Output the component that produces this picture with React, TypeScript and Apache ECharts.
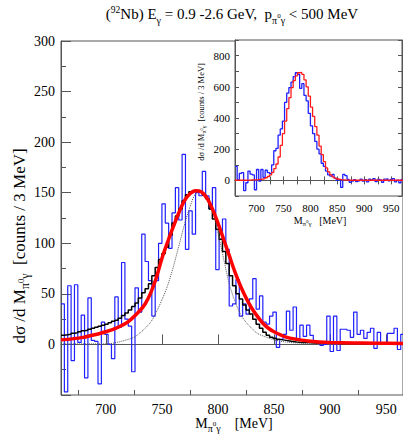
import React, { useEffect, useRef } from 'react';
import * as echarts from 'echarts';

// ---------------- data ----------------
// main panel: histograms in 3 MeV bins starting at 660 MeV
const mainBinStart = 660;
const mainBinWidth = 3;
const blueMain = [
  40, -47, 58, -16, 59, 2, 29, -33, 46, 4, 3, -39, 22, 10, 0, -14, 47, 17, 81, 25,
  18, -27, 56, 32, 109, 82, 63, 28, 63, 100, 139, 120, 95, 130, 155, 123, 188, 94, 132, 109,
  150, 147, 171, 147, 134, 155, 74, 104, 124, 94, 38, 40, 64, 28, 40, 30, 45, 65, 35, 48,
  22, 20, 28, 32, -3, 5, 10, 33, 14, 37, 5, 19, 8, 19, 9, 3, 1, -1, 0, 28,
  -7, 28, -6, 15, 15, 14, 7, 32, 10, 14, 6, 12, 16, -4, 12, 1, 0, 11, 11, 16,
  -5, 10,
];
const blackMain = [
  9, 9.5, 10, 11, 11.5, 12.5, 13.5, 14, 15, 16, 17, 18, 19,
  20, 21.5, 23, 24, 26, 28.5, 31, 34, 37.5, 41, 46, 51, 55,
  60, 68, 76, 84, 90, 96, 108, 120, 127, 134, 142, 148, 151,
  152, 152, 151, 148, 144, 134, 124, 114, 104, 92, 80, 68, 58,
  50, 45, 39, 34, 30, 25, 20, 16, 12, 9, 7, 6, 5,
  4.5, 4, 3.5, 3, 2.5, 2.2, 2, 2, 1.8, 1.5, 1.5, 1.4, 1.3,
  1.2, 1.2, 1.1, 1.1, 1, 1, 1, 1, 1, 1, 1, 1, 1, 1, 1, 1, 1, 1, 1, 1, 1, 1, 1, 1,
];
const redCurveX = [660, 670, 680, 690, 700, 710, 720, 730, 735, 740, 745, 750, 755, 760, 765, 770, 775, 780, 785, 790, 795, 800, 805, 810, 815, 820, 825, 830, 835, 840, 845, 850, 860, 870, 880, 890, 900, 920, 940, 965];
const redCurveY = [4.5, 5.5, 7, 9.5, 12.5, 16.5, 22.5, 33, 40, 51, 66, 85, 101, 116, 130, 142, 149, 152, 151, 145, 134, 120, 104, 88, 72, 58, 46, 36, 28, 21, 16, 12.5, 7.5, 5, 3.5, 2.5, 2, 1.5, 1.2, 1];
const dotCurveX = [660, 700, 710, 720, 725, 730, 735, 740, 745, 750, 755, 760, 765, 770, 775, 780, 785, 790, 795, 800, 805, 810, 815, 820, 825, 830, 835, 840, 850, 860, 870, 880, 965];
const dotCurveY = [0.5, 0.5, 2, 5, 7, 11, 16, 22, 32, 44, 58, 76, 97, 118, 136, 149, 151, 146, 132, 110, 85, 60, 43, 30, 22, 16, 11, 8.5, 4.5, 2.5, 1.5, 1, 1];
const mainXLabels = [700, 750, 800, 850, 900, 950];
const mainXMinor = [675, 725, 775, 825, 875, 925];

// inset: histograms in 4 MeV bins starting at 660 MeV
const insetBinStart = 660;
const insetBinWidth = 4;
const blueInset = [
  90, 5, 45, 50, -65, -15, 60, 40, 35, -60,
  70, -5, 70, 20, 65, 50, 45, 100, 190, 205,
  290, 330, 380, 500, 560, 595, 630, 665, 690, 680,
  590, 620, 545, 510, 430, 350, 300, 250, 200, 170,
  110, 90, 60, 35, 28, 38, 15, 0, 5, -45,
  38, 30, 6, -12, -5, 5, -8, -3, 8, -5,
  5, -10, 8, 3, 12, -8, 6, 2, -12, 8,
  10, -3, 6, 12, -10, 2, -15, 5,
];
const redInset = [
  1, 1, 1, 1, 1, 2, 2, 3, 3, 4,
  5, 7, 9, 12, 17, 25, 36, 52, 75, 105,
  150, 225, 300, 380, 460, 530, 595, 640, 670, 690,
  692, 680, 645, 600, 540, 470, 410, 345, 290, 220,
  165, 120, 80, 55, 35, 22, 14, 9, 6, 4,
  3, 2, 2, 1, 1, 1, 1, 1, 1, 1,
  1, 1, 1, 1, 1, 1, 1, 1, 1, 1,
  1, 1, 1, 1, 1, 1, 1, 1,
];
const insetXLabels = [700, 750, 800, 850, 900, 950];
const insetXTicks = [675, 700, 725, 750, 775, 800, 825, 850, 875, 900, 925, 950];
const insetYLabels = [0, 200, 400, 600, 800];

// ---------------- helpers ----------------
const FONT = 'Liberation Serif';
let measureCtx: CanvasRenderingContext2D | null = null;
function textWidth(t: string, s: number) {
  if (!measureCtx) measureCtx = document.createElement('canvas').getContext('2d');
  measureCtx!.font = `${s}px "Liberation Serif"`;
  return measureCtx!.measureText(t).width;
}
type Seg = { t: string; s: number; dy: number };
function runWidth(segs: Seg[]) {
  return segs.reduce((a, g) => a + textWidth(g.t, g.s), 0);
}
function layoutRun(segs: Seg[], x0: number, baseline: number) {
  let x = x0;
  const els: any[] = [];
  for (const g of segs) {
    els.push({
      type: 'text',
      x,
      y: baseline + g.dy - 0.33 * g.s,
      style: {
        text: g.t,
        fontSize: g.s,
        fontFamily: FONT,
        fill: '#000',
        textAlign: 'left',
        textVerticalAlign: 'middle',
      },
    });
    x += textWidth(g.t, g.s);
  }
  return els;
}
function centeredRun(segs: Seg[], cx: number, baseline: number) {
  return layoutRun(segs, cx - runWidth(segs) / 2, baseline);
}
function rotatedRun(segs: Seg[], cx: number, cy: number, baseS: number) {
  const w = runWidth(segs);
  return {
    type: 'group',
    x: cx,
    y: cy,
    rotation: Math.PI / 2,
    children: layoutRun(segs, -w / 2, 0.28 * baseS),
  };
}
function stepData(start: number, width: number, vals: number[]) {
  const pts = vals.map((v, i) => [start + i * width, v]);
  pts.push([start + vals.length * width, vals[vals.length - 1]]);
  return pts;
}
function zip(xs: number[], ys: number[]) {
  return xs.map((x, i) => [x, ys[i]]);
}

function mSub(sub: number, sup: number, dSub: number, dSup: number): Seg[] {
  return [
    { t: 'π', s: sub, dy: dSub },
    { t: '0', s: sup, dy: dSup },
    { t: 'γ', s: sub, dy: dSub },
  ];
}

function buildOption() {
  const axisCol = '#555';
  const titleSegs: Seg[] = [
    { t: '(', s: 15, dy: 0 },
    { t: '92', s: 9.5, dy: -6 },
    { t: 'Nb) E', s: 15, dy: 0 },
    { t: 'γ', s: 10, dy: 4.5 },
    { t: ' = 0.9 -2.6 GeV,  p', s: 15, dy: 0 },
    ...mSub(10, 7, 4.5, -0.5),
    { t: ' < 500 MeV', s: 15, dy: 0 },
  ];
  const mainXTitle: Seg[] = [
    { t: 'M', s: 14, dy: 0 },
    ...mSub(10, 7, 3.5, -1.5),
    { t: '    [MeV]', s: 14, dy: 0 },
  ];
  const mainYTitle: Seg[] = [
    { t: 'dσ /d M', s: 17, dy: 0 },
    ...mSub(12, 8.5, 4.5, -1),
    { t: '  [counts / 3 MeV]', s: 17, dy: 0 },
  ];
  const insetXTitle: Seg[] = [
    { t: 'M', s: 10, dy: 0 },
    ...mSub(7, 5, 2.5, -1),
    { t: '   [MeV]', s: 10, dy: 0 },
  ];
  const insetYTitle: Seg[] = [
    { t: 'dσ /d M', s: 8.5, dy: 0 },
    ...mSub(6, 4.5, 2.2, -0.8),
    { t: '  [counts / 3 MeV]', s: 8.5, dy: 0 },
  ];

  const labelBase = { fontFamily: FONT, color: '#000' };

  return {
    animation: false,
    backgroundColor: '#fff',
    grid: [
      { left: 61, top: 41, width: 343, height: 354, show: true, borderColor: axisCol, borderWidth: 1, backgroundColor: 'transparent' },
      { left: 235, top: 40, width: 167, height: 156, show: true, borderColor: axisCol, borderWidth: 1, backgroundColor: '#fff', z: 5 },
    ],
    xAxis: [
      {
        type: 'value', gridIndex: 0, min: 660, max: 965, position: 'bottom',
        axisLine: { show: true, lineStyle: { color: axisCol } },
        splitLine: { show: false },
        axisTick: { show: true, inside: true, length: 10, customValues: mainXLabels, lineStyle: { color: axisCol } },
        axisLabel: { customValues: mainXLabels, margin: 7, fontSize: 14, ...labelBase },
      },
      {
        type: 'value', gridIndex: 0, min: 660, max: 965, position: 'bottom',
        axisLine: { show: false },
        splitLine: { show: false },
        axisTick: { show: true, inside: true, length: 5, customValues: mainXMinor, lineStyle: { color: axisCol } },
        axisLabel: { show: false },
      },
      {
        type: 'value', gridIndex: 1, min: 660, max: 970, position: 'bottom',
        axisLine: { show: true, lineStyle: { color: axisCol } },
        splitLine: { show: false },
        axisTick: { show: true, inside: true, length: 4, customValues: insetXTicks, lineStyle: { color: axisCol } },
        axisLabel: { customValues: insetXLabels, margin: 6, fontSize: 11, ...labelBase },
        z: 6,
      },
      {
        type: 'value', gridIndex: 1, min: 660, max: 970, position: 'top',
        axisLine: { show: true, lineStyle: { color: axisCol } },
        splitLine: { show: false },
        axisTick: { show: true, inside: true, length: 4, customValues: insetXTicks, lineStyle: { color: axisCol } },
        axisLabel: { show: false },
        z: 6,
      },
    ],
    yAxis: [
      {
        type: 'value', gridIndex: 0, min: -50, max: 300, interval: 50, position: 'left',
        axisLine: { show: true, lineStyle: { color: axisCol } },
        splitLine: { show: false },
        axisTick: { show: true, inside: true, length: 10, lineStyle: { color: axisCol } },
        minorTick: { show: true, splitNumber: 2, length: 5, lineStyle: { color: axisCol } },
        minorSplitLine: { show: false },
        axisLabel: { margin: 6, fontSize: 14, ...labelBase, formatter: (v: number) => (v < 0 ? '' : String(v)) },
      },
      {
        type: 'value', gridIndex: 1, min: -100, max: 900, interval: 100, position: 'left',
        axisLine: { show: true, lineStyle: { color: axisCol } },
        splitLine: { show: false },
        axisTick: { show: true, inside: true, length: 4, lineStyle: { color: axisCol } },
        axisLabel: {
          margin: 5, fontSize: 11, ...labelBase,
          formatter: (v: number) => (insetYLabels.indexOf(v) >= 0 ? String(v) : ''),
        },
        z: 6,
      },
      {
        type: 'value', gridIndex: 1, min: -100, max: 900, interval: 100, position: 'right',
        axisLine: { show: true, lineStyle: { color: axisCol } },
        splitLine: { show: false },
        axisTick: { show: true, inside: true, length: 4, lineStyle: { color: axisCol } },
        axisLabel: { show: false },
        z: 6,
      },
    ],
    series: [
      {
        type: 'line', xAxisIndex: 0, yAxisIndex: 0, step: 'end', symbol: 'none', clip: true,
        data: stepData(mainBinStart, mainBinWidth, blueMain),
        lineStyle: { color: '#2020ff', width: 1.2 }, z: 2,
      },
      {
        type: 'line', xAxisIndex: 0, yAxisIndex: 0, step: 'end', symbol: 'none', clip: true,
        data: stepData(mainBinStart, mainBinWidth, blackMain),
        lineStyle: { color: '#000', width: 1.5 }, z: 3,
      },
      {
        type: 'line', xAxisIndex: 0, yAxisIndex: 0, smooth: 0.3, symbol: 'none', clip: true,
        data: zip(dotCurveX, dotCurveY),
        lineStyle: { color: '#555', width: 1, type: 'dotted' }, z: 3,
      },
      {
        type: 'line', xAxisIndex: 0, yAxisIndex: 0, smooth: 0.3, symbol: 'none', clip: true,
        data: zip(redCurveX, redCurveY),
        lineStyle: { color: '#ff0000', width: 3.5 }, z: 4,
      },
      {
        type: 'line', xAxisIndex: 2, yAxisIndex: 1, step: 'end', symbol: 'none', clip: true,
        data: stepData(insetBinStart, insetBinWidth, blueInset),
        lineStyle: { color: '#2020ff', width: 1.3 }, z: 7,
      },
      {
        type: 'line', xAxisIndex: 2, yAxisIndex: 1, step: 'end', symbol: 'none', clip: true,
        data: stepData(insetBinStart, insetBinWidth, redInset),
        lineStyle: { color: '#ff1a1a', width: 1.3 }, z: 7,
      },
    ],
    graphic: [
      ...centeredRun(titleSegs, 232, 19),
      ...centeredRun(mainXTitle, 234, 428),
      rotatedRun(mainYTitle, 20, 246, 17),
      ...centeredRun(insetXTitle, 320, 224),
      rotatedRun(insetYTitle, 201, 112, 8.5),
    ],
  };
}

export default function App() {
  const ref = useRef<HTMLDivElement>(null);
  useEffect(() => {
    const chart = echarts.init(ref.current!, null, { renderer: 'svg' });
    chart.setOption(buildOption() as any);
    return () => chart.dispose();
  }, []);
  return (
    <div
      ref={ref}
      style={{ position: 'absolute', left: 0, top: 0, width: 403, height: 435, background: '#fff' }}
    />
  );
}
